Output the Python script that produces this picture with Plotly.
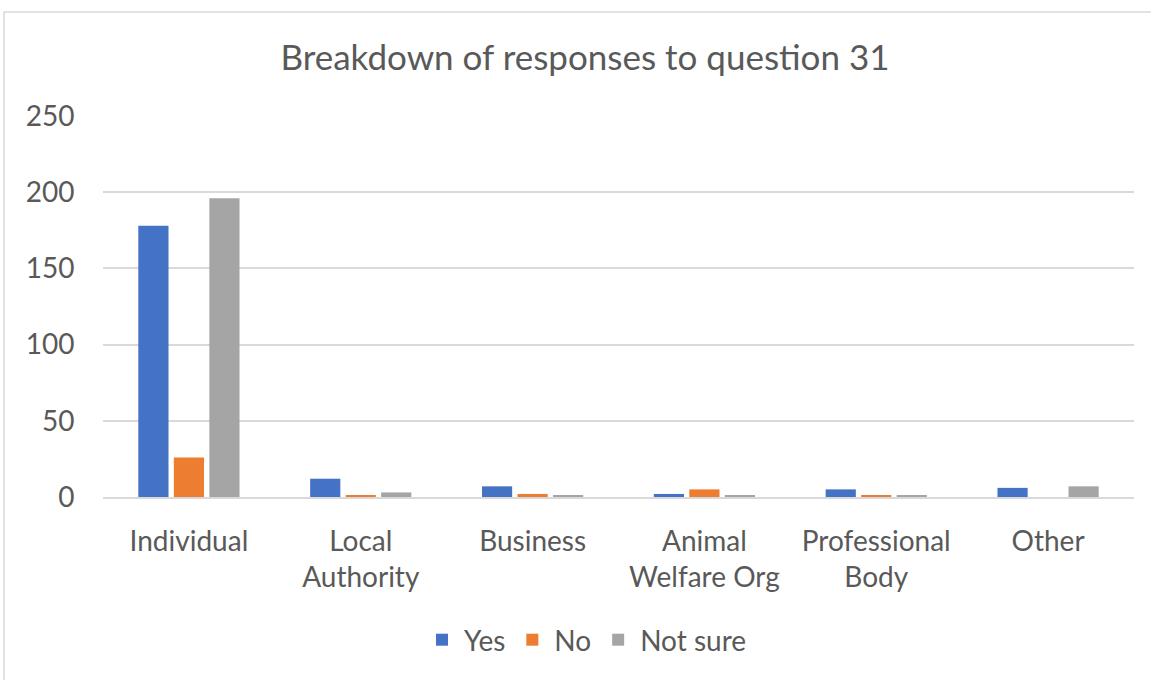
import plotly.graph_objects as go

# Respondent categories and answer counts for question 31
categories = ["Individual", "Local<br>Authority", "Business", "Animal<br>Welfare Org",
              "Professional<br>Body", "Other"]
yes_counts = [178, 12, 7, 2, 5, 6]
no_counts = [26, 1, 2, 5, 1, 0]
not_sure_counts = [196, 3, 1, 1, 1, 7]

series = [
    ("Yes", yes_counts, "#4472C4"),
    ("No", no_counts, "#ED7D31"),
    ("Not sure", not_sure_counts, "#A5A5A5"),
]

text_color = "#595959"
font_family = "Lato, Open Sans, sans-serif"

fig = go.Figure()
for name, vals, color in series:
    fig.add_trace(go.Bar(name=name, x=categories, y=vals, marker_color=color,
                         marker_line_width=0))

W, H = 1151, 680
ml, mr, mt, mb = 103, 17, 116, 183
pw, ph = W - ml - mr, H - mt - mb

def px_x(x):
    return (x - ml) / pw

def px_y(y):
    return 1 - (y - mt) / ph

fig.update_layout(
    width=W, height=H,
    margin=dict(l=ml, r=mr, t=mt, b=mb),
    paper_bgcolor="white", plot_bgcolor="white",
    font=dict(family=font_family, color=text_color, size=28),
    title=dict(text="Breakdown of responses to question 31", x=585 / W, xanchor="center",
               y=1 - 58 / H, yanchor="middle", font=dict(size=35, color=text_color)),
    barmode="group", bargap=0.38, bargroupgap=0.15,
    showlegend=True,
    legend=dict(orientation="h", x=px_x(586), xanchor="center", y=px_y(640),
                yanchor="middle", font=dict(size=28, color=text_color),
                itemwidth=34, traceorder="normal"),
    xaxis=dict(showgrid=False, showline=True, linecolor="#d9d9d9", linewidth=2,
               ticks="outside", ticklen=18, tickcolor="rgba(0,0,0,0)",
               tickfont=dict(size=28, color=text_color)),
    yaxis=dict(range=[0, 250], dtick=50, showgrid=True, gridcolor="#d9d9d9", gridwidth=1.5,
               zeroline=False, showline=False, ticks="outside", ticklen=22,
               tickcolor="rgba(0,0,0,0)", tickfont=dict(size=28, color=text_color)),
    shapes=[dict(type="rect", xref="paper", yref="paper",
                 x0=px_x(4), x1=px_x(1160), y0=px_y(700), y1=px_y(12),
                 line=dict(color="#d9d9d9", width=1.5), fillcolor="rgba(0,0,0,0)",
                 layer="below")],
)

fig.write_html("out.html")
